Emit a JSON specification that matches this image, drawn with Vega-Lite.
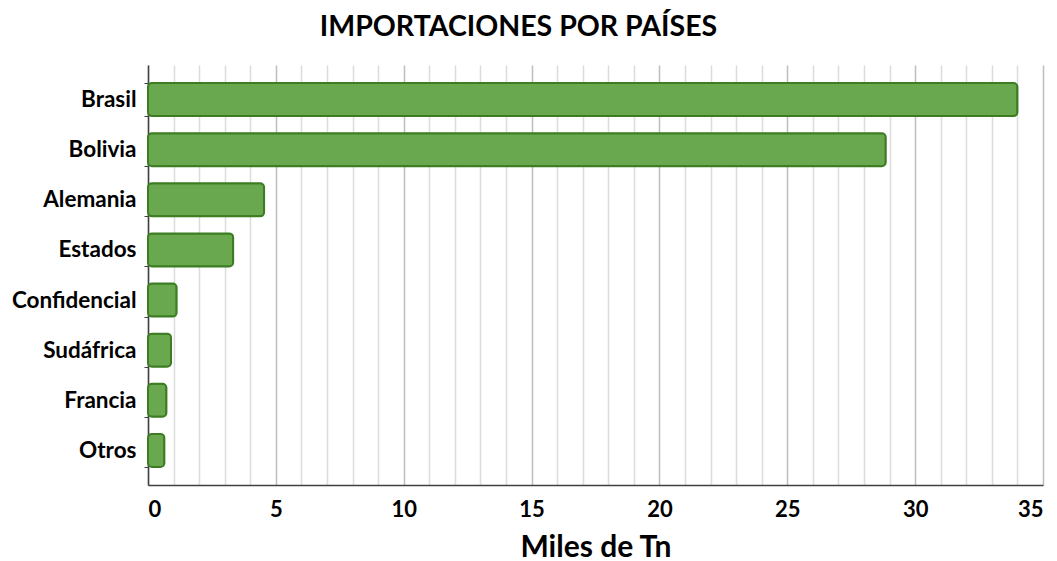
{
  "$schema": "https://vega.github.io/schema/vega-lite/v6.json",
  "width": 895,
  "height": 420,
  "autosize": {"type": "none"},
  "padding": {"left": 148, "top": 65, "right": 14, "bottom": 76},
  "background": "white",
  "title": {
    "text": "IMPORTACIONES POR PAÍSES",
    "font": "Lato",
    "fontSize": 28.5,
    "fontWeight": "bold",
    "color": "#000000",
    "anchor": "middle",
    "dx": -77,
    "offset": 13
  },
  "data": {
    "values": [
      {"pais": "Brasil", "miles": 34.0},
      {"pais": "Bolivia", "miles": 28.85},
      {"pais": "Alemania", "miles": 4.54},
      {"pais": "Estados", "miles": 3.33},
      {"pais": "Confidencial", "miles": 1.12},
      {"pais": "Sudáfrica", "miles": 0.9},
      {"pais": "Francia", "miles": 0.72},
      {"pais": "Otros", "miles": 0.64}
    ]
  },
  "mark": {
    "type": "bar",
    "fill": "#6aa84f",
    "stroke": "#3c7d22",
    "strokeWidth": 2,
    "cornerRadius": 4
  },
  "encoding": {
    "y": {
      "field": "pais",
      "type": "nominal",
      "sort": null,
      "scale": {"paddingInner": 0.34, "paddingOuter": 0.36},
      "axis": {
        "title": null,
        "labelFont": "Lato",
        "labelFontSize": 22.5,
        "labelFontWeight": "bold",
        "labelColor": "#000000",
        "labelPadding": 8,
        "domainColor": "#404040",
        "domainWidth": 1.5,
        "ticks": true,
        "tickBand": "extent",
        "tickColor": "#404040",
        "tickSize": 4,
        "grid": false
      }
    },
    "x": {
      "field": "miles",
      "type": "quantitative",
      "scale": {"domain": [0, 35], "nice": false},
      "axis": {
        "title": "Miles de Tn",
        "titleFont": "Lato",
        "titleFontSize": 30,
        "titleFontWeight": "bold",
        "titleColor": "#000000",
        "titlePadding": 12,
        "values": [0,1,2,3,4,5,6,7,8,9,10,11,12,13,14,15,16,17,18,19,20,21,22,23,24,25,26,27,28,29,30,31,32,33,34,35],
        "labelExpr": "datum.value % 5 === 0 ? datum.label : ''",
        "labelFont": "Lato",
        "labelFontSize": 22,
        "labelFontWeight": "bold",
        "labelColor": "#000000",
        "labelPadding": 14,
        "ticks": false,
        "domainColor": "#404040",
        "domainWidth": 1.5,
        "grid": true,
        "gridColor": {"condition": {"test": "datum.value % 5 === 0", "value": "#bdbdbd"}, "value": "#dcdcdc"},
        "gridWidth": 1.5
      }
    }
  },
  "config": {"view": {"stroke": null}}
}
